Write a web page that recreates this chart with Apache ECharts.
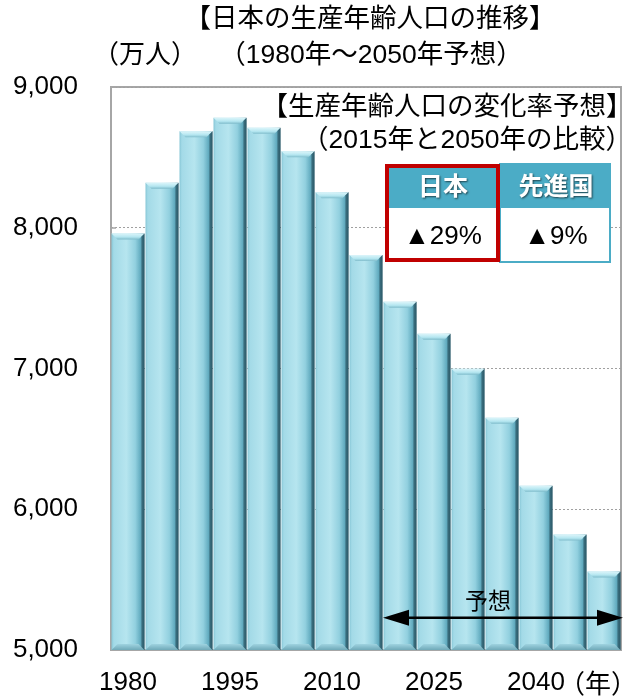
<!DOCTYPE html>
<html><head><meta charset="utf-8">
<script src="https://cdn.jsdelivr.net/npm/echarts@6/dist/echarts.min.js"></script>
<style>html,body{margin:0;padding:0;background:#fff}#c{width:627px;height:696px}</style>
</head><body><div id="c"></div>
<script>
// ---- data ----
const years = ['1980','1985','1990','1995','2000','2005','2010','2015','2020','2025','2030','2035','2040','2045','2050'];
const workingAgePop = [7960, 8320, 8685, 8782, 8710, 8543, 8252, 7806, 7474, 7247, 6998, 6650, 6167, 5820, 5558];
const yMin = 5000, yMax = 9000, yStep = 1000;
const forecastStartIndex = 8; // 2020
const tableHeaders = ['日本', '先進国'];
const tableValues = ['▲29%', '▲9%'];

const FONT = '"Liberation Sans", Arial, "Noto Sans CJK JP", sans-serif';
const chart = echarts.init(document.getElementById('c'), null, {renderer: 'canvas'});

const bodyGrad = new echarts.graphic.LinearGradient(0, 0, 1, 0, [
  {offset: 0, color: '#86c6d6'},
  {offset: 0.07, color: '#a3dae7'},
  {offset: 0.45, color: '#b6e5ef'},
  {offset: 0.72, color: '#92d0df'},
  {offset: 0.88, color: '#62abbf'},
  {offset: 1, color: '#2f6373'}
]);
const topGrad = new echarts.graphic.LinearGradient(0, 0, 0, 1, [
  {offset: 0, color: '#dcf5fa'},
  {offset: 0.6, color: '#b4e6f0'},
  {offset: 1, color: '#7fbccb'}
]);
const bottomGrad = new echarts.graphic.LinearGradient(0, 0, 0, 1, [
  {offset: 0, color: '#9fd3e0'},
  {offset: 1, color: '#6fa9b8'}
]);

function renderBar(params, api) {
  const idx = api.value(0);
  const v = api.value(1);
  const top = api.coord([idx, v]);
  const base = api.coord([idx, yMin]);
  const w = api.size([1, 0])[0];
  const bw = w - 1;
  const x0 = top[0] - bw / 2, y0 = top[1], y1 = base[1];
  const bev = 6;
  return {
    type: 'group',
    children: [
      {type: 'rect', shape: {x: x0, y: y0, width: bw, height: y1 - y0}, style: {fill: bodyGrad}},
      {type: 'polygon', shape: {points: [[x0, y0], [x0 + bw, y0], [x0 + bw - bev, y0 + bev], [x0 + bev, y0 + bev]]}, style: {fill: topGrad}},
      {type: 'polygon', shape: {points: [[x0, y1], [x0 + bw, y1], [x0 + bw - bev, y1 - bev], [x0 + bev, y1 - bev]]}, style: {fill: bottomGrad}},
      {type: 'polygon', shape: {points: [[x0 + bw, y0], [x0 + bw, y1], [x0 + bw - 3, y1 - 3], [x0 + bw - 3, y0 + 3]]}, style: {fill: 'rgba(40,80,95,0.55)'}}
    ]
  };
}

const option = {
  backgroundColor: '#fff',
  animation: false,
  grid: {left: 111, right: 6, top: 87, bottom: 43, show: true, borderColor: '#a6a6a6', borderWidth: 2, backgroundColor: 'transparent'},
  xAxis: {
    type: 'category', data: years, boundaryGap: true,
    axisLine: {show: true, lineStyle: {color: '#a6a6a6', width: 2}},
    axisTick: {show: false},
    axisLabel: {interval: 2, fontSize: 26, color: '#000', fontFamily: FONT, margin: 20}
  },
  yAxis: {
    type: 'value', min: yMin, max: yMax, interval: yStep,
    axisLine: {show: true, lineStyle: {color: '#a6a6a6', width: 2}},
    axisTick: {show: true, inside: true, length: 5, lineStyle: {color: '#a6a6a6', width: 1.5}},
    axisLabel: {fontSize: 26, color: '#000', fontFamily: FONT, margin: 33, formatter: v => v.toLocaleString('en-US')},
    splitLine: {show: true, lineStyle: {color: '#a0a0a0', type: [2, 2], width: 1}}
  },
  series: [{
    type: 'custom', renderItem: renderBar, clip: false,
    encode: {x: 0, y: 1},
    data: workingAgePop.map((v, i) => [i, v]),
    z: 3
  }]
};
chart.setOption(option);

// annotations
const arrowY = 5230;
const pL = chart.convertToPixel({gridIndex: 0}, [forecastStartIndex, arrowY]);
const catW = chart.convertToPixel({gridIndex: 0}, [1, arrowY])[0] - chart.convertToPixel({gridIndex: 0}, [0, arrowY])[0];
const ax0 = pL[0] - catW / 2;
const ax1 = chart.convertToPixel({gridIndex: 0}, [years.length - 1, arrowY])[0] + catW / 2 + 2;
const ay = pL[1];
const head = 26, hh = 8;

const txt = (x, y, s, size, extra) => Object.assign({
  type: 'text', x: x, y: y, z: 120,
  style: Object.assign({text: s, fontSize: size, fontFamily: FONT, fill: '#000', align: 'center', verticalAlign: 'middle'}, extra || {})
});
const hdrStyle = {fill: '#fff', fontWeight: 'bold', textShadowColor: 'rgba(0,0,0,0.6)', textShadowBlur: 2, textShadowOffsetX: 1, textShadowOffsetY: 1};

const graphics = [
  txt(370, 20, '【日本の生産年齢人口の推移】', 26.5),
  txt(145, 56, '（万人）', 26),
  txt(371, 56, '（1980年～2050年予想）', 26.5),
  txt(447, 108, '【生産年齢人口の変化率予想】', 26.5),
  txt(467, 141, '（2015年と2050年の比較）', 26.5),
  // table
  {type: 'rect', z: 100, shape: {x: 500, y: 164, width: 110, height: 98}, style: {fill: '#fff', stroke: '#4bacc6', lineWidth: 2}},
  {type: 'rect', z: 101, shape: {x: 500, y: 164, width: 111, height: 44}, style: {fill: '#4bacc6'}},
  {type: 'rect', z: 101, shape: {x: 387, y: 166, width: 111, height: 94}, style: {fill: '#fff'}},
  {type: 'rect', z: 102, shape: {x: 387, y: 166, width: 111, height: 42}, style: {fill: '#4bacc6'}},
  {type: 'rect', z: 103, shape: {x: 387, y: 166, width: 111, height: 94}, style: {fill: null, stroke: '#c00000', lineWidth: 4}},
  txt(443, 188, tableHeaders[0], 25, hdrStyle),
  txt(556, 188, tableHeaders[1], 25, hdrStyle),
  txt(443, 237, tableValues[0], 26),
  txt(556, 237, tableValues[1], 26),
  // forecast arrow
  {type: 'line', z: 100, shape: {x1: ax0 + head - 2, y1: ay, x2: ax1 - head + 2, y2: ay}, style: {stroke: '#000', lineWidth: 2.5}},
  {type: 'polygon', z: 100, shape: {points: [[ax0, ay], [ax0 + head, ay - hh], [ax0 + head, ay + hh]]}, style: {fill: '#000'}},
  {type: 'polygon', z: 100, shape: {points: [[ax1, ay], [ax1 - head, ay - hh], [ax1 - head, ay + hh]]}, style: {fill: '#000'}},
  txt(488, 603, '予想', 23),
  // year unit
  txt(598, 686, '（年）', 26)
];
chart.setOption({graphic: {elements: graphics}});
</script>
</body></html>
